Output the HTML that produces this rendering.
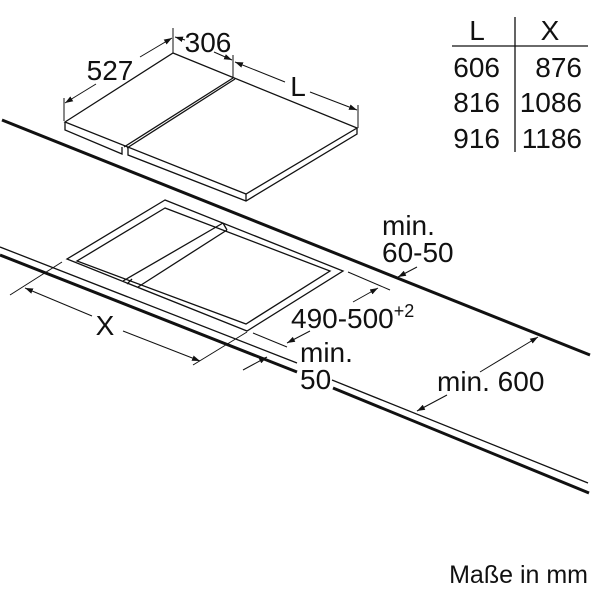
<!DOCTYPE html>
<html><head><meta charset="utf-8"><style>
html,body{margin:0;padding:0;background:#fff;}
svg{display:block;}
text{font-family:"Liberation Sans",sans-serif;fill:#111;}
</style></head><body>
<svg width="600" height="600" viewBox="0 0 600 600" xmlns="http://www.w3.org/2000/svg">
<defs>
<marker id="a" viewBox="0 0 10 10" refX="10" refY="5" markerWidth="8" markerHeight="8" orient="auto-start-reverse" markerUnits="userSpaceOnUse">
<path d="M0,1.5 L10,5 L0,8.5 z" fill="#111"/></marker>
</defs>
<g stroke="#111" fill="none" stroke-width="1.3">
<line x1="2" y1="120" x2="590" y2="355" stroke-width="3"/>
<line x1="0" y1="247" x2="297" y2="363"/>
<line x1="0" y1="255" x2="297" y2="372" stroke-width="3"/>
<line x1="332" y1="380" x2="588" y2="483"/>
<line x1="333" y1="388" x2="589" y2="493" stroke-width="3"/>

<polygon points="65,122 173,53 357,128 246,194" fill="#fff"/>
<polyline points="65,122 65,130 122,154 122,147"/>
<polyline points="128,148 128,155 246,201 357,134 357,128"/>
<line x1="246" y1="194" x2="246" y2="201"/>
<line x1="233" y1="78" x2="124" y2="147"/>
<line x1="235" y1="79" x2="127" y2="148"/>
<line x1="64" y1="98" x2="64" y2="121" stroke-width="1"/>
<line x1="173" y1="28" x2="173" y2="53" stroke-width="1"/>
<line x1="233" y1="55" x2="233" y2="78" stroke-width="1"/>
<line x1="358" y1="105" x2="358" y2="128" stroke-width="1"/>
<line x1="96" y1="84" x2="65" y2="103" marker-end="url(#a)" stroke-width="1"/>
<line x1="140" y1="57" x2="172" y2="38" marker-end="url(#a)" stroke-width="1"/>
<line x1="185" y1="40" x2="175" y2="37" marker-end="url(#a)" stroke-width="1"/>
<line x1="214" y1="52" x2="232" y2="60" marker-end="url(#a)" stroke-width="1"/>
<line x1="285" y1="82" x2="235" y2="62" marker-end="url(#a)" stroke-width="1"/>
<line x1="310" y1="92" x2="357" y2="110" marker-end="url(#a)" stroke-width="1"/>

<polygon points="165,200 67,259 247,331 343,271"/>
<polygon points="165,208 77,261 246,324 330,271"/>
<line x1="223" y1="223" x2="123" y2="281"/>
<line x1="227" y1="230" x2="138" y2="287"/>
<line x1="227" y1="230" x2="223" y2="223"/>
<line x1="127" y1="284" x2="132" y2="279"/>

<line x1="10" y1="295" x2="62" y2="262" stroke-width="1"/>
<line x1="193" y1="365" x2="247" y2="332" stroke-width="1"/>
<line x1="92" y1="316" x2="25" y2="288" marker-end="url(#a)" stroke-width="1"/>
<line x1="123" y1="331" x2="200" y2="361" marker-end="url(#a)" stroke-width="1"/>
<line x1="348" y1="272" x2="390" y2="290" stroke-width="1"/>
<line x1="253" y1="333" x2="287" y2="347" stroke-width="1"/>
<line x1="353" y1="302" x2="378" y2="288" marker-end="url(#a)" stroke-width="1"/>
<line x1="310" y1="331" x2="287" y2="343" marker-end="url(#a)" stroke-width="1"/>
<line x1="243" y1="370" x2="267" y2="357" marker-end="url(#a)" stroke-width="1"/>
<line x1="417" y1="267" x2="398" y2="277" marker-end="url(#a)" stroke-width="1"/>
<line x1="480" y1="372" x2="538" y2="337" marker-end="url(#a)" stroke-width="1"/>
<line x1="447" y1="395" x2="417" y2="411" marker-end="url(#a)" stroke-width="1"/>

<line x1="515" y1="17" x2="515" y2="152"/>
<line x1="452" y1="46" x2="588" y2="46"/>
</g>
<g font-size="28">
<text x="110" y="80" text-anchor="middle">527</text>
<text x="208" y="52" text-anchor="middle">306</text>
<text x="298" y="96" text-anchor="middle">L</text>
<text x="477" y="40" text-anchor="middle">L</text>
<text x="550" y="40" text-anchor="middle">X</text>
<text x="500" y="77" text-anchor="end">606</text>
<text x="582" y="77" text-anchor="end">876</text>
<text x="500" y="112" text-anchor="end">816</text>
<text x="582" y="112" text-anchor="end">1086</text>
<text x="500" y="148" text-anchor="end">916</text>
<text x="582" y="148" text-anchor="end">1186</text>
<text x="382" y="235">min.</text>
<text x="382" y="262">60-50</text>
<text x="291" y="328">490-500<tspan font-size="18" dy="-11">+2</tspan></text>
<text x="300" y="362">min.</text>
<text x="300" y="389">50</text>
<text x="437" y="391">min. 600</text>
<text x="105" y="335" text-anchor="middle">X</text>
</g>
<text x="588" y="583" font-size="25" text-anchor="end">Maße in mm</text>
</svg>
</body></html>
